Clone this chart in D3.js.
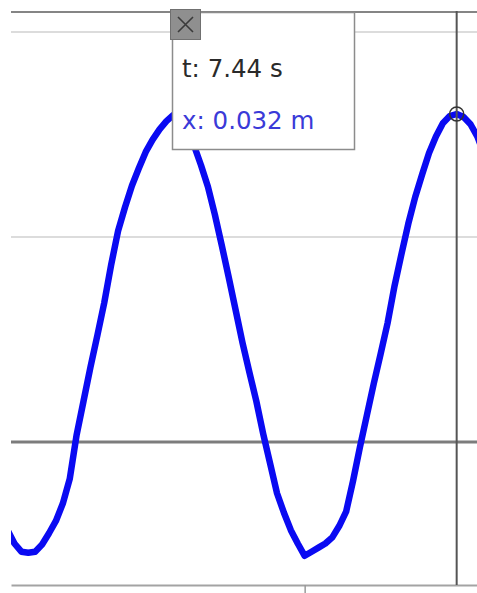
<!DOCTYPE html>
<html>
<head>
<meta charset="utf-8">
<script src="https://cdn.jsdelivr.net/npm/d3@7"></script>
<style>
  html, body { margin: 0; padding: 0; background: #fff; }
  svg { display: block; }
  text { font-family: "DejaVu Sans", "Liberation Sans", Arial, sans-serif; }
</style>
</head>
<body>
<svg id="chart" width="477" height="593"></svg>
<script>
// Position of the oscillator, sampled every 0.02 s
const times = [6.10, 6.12, 6.14, 6.16, 6.18, 6.20, 6.22, 6.24, 6.26, 6.28,
               6.30, 6.32, 6.34, 6.36, 6.38, 6.40, 6.42, 6.44, 6.46, 6.48,
               6.50, 6.52, 6.54, 6.56, 6.58, 6.60, 6.62, 6.64, 6.66, 6.68,
               6.70, 6.72, 6.74, 6.76, 6.78, 6.80, 6.82, 6.84, 6.86, 6.88,
               6.90, 6.92, 6.94, 6.96, 6.98, 7.00, 7.02, 7.04, 7.06, 7.08,
               7.10, 7.12, 7.14, 7.16, 7.18, 7.20, 7.22, 7.24, 7.26, 7.28,
               7.30, 7.32, 7.34, 7.36, 7.38, 7.40, 7.42, 7.44, 7.46, 7.48,
               7.50, 7.52];
const positions = [-0.0057, -0.0073, -0.0086, -0.0099, -0.0107, -0.0108, -0.0107, -0.0100, -0.0089, -0.0077,
                   -0.0060, -0.0036, 0.0007, 0.0040, 0.0073, 0.0104, 0.0136, 0.0173, 0.0206, 0.0229,
                   0.0250, 0.0267, 0.0283, 0.0295, 0.0305, 0.0313, 0.0319, 0.0314, 0.0303, 0.0289,
                   0.0270, 0.0249, 0.0222, 0.0192, 0.0161, 0.0129, 0.0097, 0.0068, 0.0040, 0.0008,
                   -0.0021, -0.0050, -0.0069, -0.0086, -0.0099, -0.0111, -0.0107, -0.0103, -0.0099, -0.0093,
                   -0.0082, -0.0068, -0.0038, -0.0005, 0.0026, 0.0057, 0.0086, 0.0116, 0.0152, 0.0183,
                   0.0213, 0.0239, 0.0261, 0.0282, 0.0298, 0.0311, 0.0318, 0.032, 0.0317, 0.0310,
                   0.0298, 0.0280];

// Horizontal grid values (m) and the time tick (s)
const gridValues = [0.02, 0.04];
const zeroValue = 0;
const timeTicks = [7];

// Selected sample shown in the readout
const selectedIndex = 67;

const svg = d3.select("#chart");

const plot = { left: 11, right: 477.4, top: 12, bottom: 585 };

const x = d3.scaleLinear().domain([6.15, 7.5]).range([plot.left, plot.right]);
const y = d3.scaleLinear().domain([-0.01395, 0.04195]).range([plot.bottom, plot.top]);

svg.append("defs").append("clipPath").attr("id", "plot-clip")
  .append("rect")
  .attr("x", plot.left).attr("y", plot.top)
  .attr("width", plot.right - plot.left).attr("height", plot.bottom - plot.top);

// Light horizontal grid lines
svg.append("g").selectAll("line").data(gridValues).join("line")
  .attr("x1", plot.left).attr("x2", plot.right)
  .attr("y1", d => y(d)).attr("y2", d => y(d))
  .attr("stroke", "#dcdcdc").attr("stroke-width", 2);

// Top frame line
svg.append("line")
  .attr("x1", plot.left).attr("x2", plot.right)
  .attr("y1", plot.top).attr("y2", plot.top)
  .attr("stroke", "#858585").attr("stroke-width", 2);

// Zero line
svg.append("line")
  .attr("x1", plot.left).attr("x2", plot.right)
  .attr("y1", y(zeroValue)).attr("y2", y(zeroValue))
  .attr("stroke", "#7c7c7c").attr("stroke-width", 3);

// Time axis along the bottom
const xAxis = svg.append("g")
  .attr("transform", `translate(0,${plot.bottom})`)
  .call(d3.axisBottom(x).tickValues(timeTicks).tickSize(9).tickSizeOuter(0).tickFormat(""));
xAxis.select(".domain").attr("stroke", "#a3a3a3").attr("stroke-width", 2);
xAxis.selectAll(".tick line").attr("stroke", "#9a9a9a").attr("stroke-width", 1.5);

// Position trace
const data = times.map((t, i) => ({ t, v: positions[i] }));
svg.append("path")
  .datum(data)
  .attr("clip-path", "url(#plot-clip)")
  .attr("fill", "none")
  .attr("stroke", "#0a0af2")
  .attr("stroke-width", 6.5)
  .attr("stroke-linejoin", "round")
  .attr("stroke-linecap", "round")
  .attr("d", d3.line().x(d => x(d.t)).y(d => y(d.v)));

// Cursor line and marker on the selected sample
const sel = data[selectedIndex];
svg.append("line")
  .attr("x1", x(sel.t)).attr("x2", x(sel.t))
  .attr("y1", plot.top - 1).attr("y2", plot.bottom)
  .attr("stroke", "#555").attr("stroke-width", 2);
svg.append("circle")
  .attr("cx", x(sel.t)).attr("cy", y(sel.v)).attr("r", 7)
  .attr("fill", "none").attr("stroke", "#333").attr("stroke-width", 1.5);

// Readout box
const box = svg.append("g");
box.append("rect")
  .attr("x", 172.5).attr("y", 12.5).attr("width", 182).attr("height", 137)
  .attr("fill", "#fff").attr("stroke", "#8c8c8c").attr("stroke-width", 1.5);
box.append("text")
  .attr("x", 182).attr("y", 77)
  .attr("font-size", 24.5).attr("fill", "#2a2a2a")
  .text(`t: ${sel.t.toFixed(2)} s`);
box.append("text")
  .attr("x", 182).attr("y", 129)
  .attr("font-size", 24.5).attr("fill", "#3a3ad8")
  .text(`x: ${sel.v.toFixed(3)} m`);

// Close button
const close = box.append("g");
close.append("rect")
  .attr("x", 170.5).attr("y", 9.5).attr("width", 30).attr("height", 30)
  .attr("fill", "#8f8f8f").attr("stroke", "#707070").attr("stroke-width", 1);
close.append("path")
  .attr("d", "M178,17L193,32M193,17L178,32")
  .attr("stroke", "#3a3a3a").attr("stroke-width", 1.6);
</script>
</body>
</html>
